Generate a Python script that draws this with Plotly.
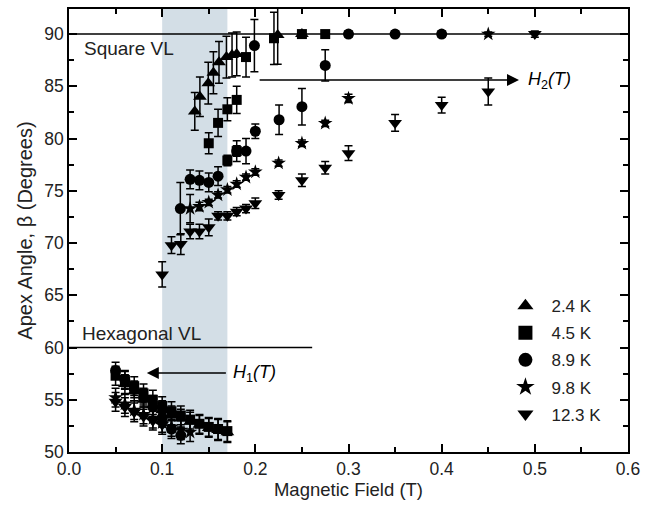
import plotly.graph_objects as go

# ---- data ----
# 2.4 K
x24 = [0.06, 0.07, 0.08, 0.09, 0.10, 0.11, 0.12, 0.13, 0.14, 0.15, 0.16, 0.17,
       0.135, 0.1405, 0.1495, 0.155, 0.161, 0.169, 0.175, 0.18, 0.224, 0.25]
y24 = [56.5, 55.8, 55.0, 54.5, 54.0, 53.5, 53.2, 52.9, 52.6, 52.3, 52.1, 51.9,
       82.6, 84.0, 85.3, 86.3, 87.3, 87.8, 88.0, 88.1, 89.9, 90.0]
e24 = [0.9, 0.9, 0.9, 0.9, 0.9, 0.9, 0.9, 0.9, 0.9, 0.9, 1.0, 1.0,
       1.8, 1.9, 2.0, 2.0, 2.0, 2.0, 2.1, 2.1, 2.8, 0.3]

# 4.5 K
x45 = [0.05, 0.06, 0.07, 0.08, 0.09, 0.10, 0.11, 0.12, 0.13, 0.14, 0.15, 0.16, 0.17,
       0.15, 0.16, 0.17, 0.18, 0.17, 0.18, 0.19, 0.22, 0.25, 0.275]
y45 = [57.3, 56.9, 56.3, 55.6, 55.0, 54.4, 53.9, 53.5, 53.1, 52.7, 52.4, 52.2, 52.0,
       79.55, 81.5, 82.8, 83.7, 77.9, 78.8, 87.8, 89.6, 90.0, 90.0]
e45 = [0.9, 0.9, 0.9, 0.9, 0.9, 0.9, 0.9, 0.9, 0.9, 0.9, 0.9, 1.0, 1.0,
       1.0, 1.3, 1.1, 1.3, 0.5, 0.5, 1.9, 2.5, 0.3, 0.3]

# 8.9 K
x89 = [0.05, 0.06, 0.07, 0.08, 0.09, 0.10, 0.11, 0.12,
       0.1195, 0.13, 0.14, 0.15, 0.16, 0.18, 0.19, 0.20, 0.199, 0.2255, 0.25, 0.275,
       0.30, 0.35, 0.40]
y89 = [57.8, 56.9, 56.0, 55.2, 54.3, 53.3, 52.2, 51.6,
       73.3, 76.1, 76.0, 75.8, 76.4, 78.8, 78.8, 80.7, 88.9, 81.8, 83.05, 87.0,
       90.0, 90.0, 90.0]
e89 = [0.8, 0.8, 0.8, 0.9, 0.9, 0.9, 0.9, 0.8,
       2.5, 0.9, 0.9, 0.9, 0.9, 1.0, 1.2, 0.7, 2.5, 1.4, 1.75, 1.5,
       0.3, 0.3, 0.3]

# 9.8 K
x98 = [0.05, 0.06, 0.07, 0.08, 0.09, 0.10, 0.11, 0.12, 0.13,
       0.13, 0.14, 0.15, 0.16, 0.17, 0.18, 0.19, 0.20, 0.225, 0.25, 0.275, 0.30, 0.45]
y98 = [55.2, 54.6, 54.0, 53.6, 53.2, 52.8, 52.4, 52.1, 51.9,
       73.3, 73.5, 73.9, 74.6, 75.1, 75.65, 76.3, 76.8, 77.65, 79.55, 81.46, 83.84, 90.0]
e98 = [0.9, 0.9, 0.9, 0.9, 0.9, 0.9, 0.9, 0.9, 0.9,
       1.35, 0.4, 0.3, 0.3, 0.3, 0.3, 0.3, 0.3, 0.3, 0.3, 0.3, 0.4, 0.2]

# 12.3 K
x123 = [0.05, 0.06, 0.07, 0.08, 0.09, 0.10,
        0.10, 0.11, 0.12, 0.13, 0.14, 0.15, 0.16, 0.17, 0.18, 0.19, 0.20, 0.225,
        0.25, 0.275, 0.30, 0.35, 0.40, 0.45, 0.50]
y123 = [54.8, 54.3, 53.8, 53.4, 53.0, 52.6,
        67.0, 69.8, 69.9, 71.1, 71.1, 71.5, 72.6, 72.6, 73.0, 73.3, 73.8, 74.6,
        76.0, 77.2, 78.6, 81.5, 83.2, 84.5, 90.0]
e123 = [0.9, 0.9, 0.9, 0.9, 0.9, 0.9,
        1.2, 0.8, 1.0, 0.7, 0.7, 0.8, 0.4, 0.4, 0.4, 0.4, 0.5, 0.4,
        0.6, 0.6, 0.7, 0.8, 0.75, 1.3, 0.3]

series = [
    ("2.4 K", x24, y24, e24, "triangle-up", 12),
    ("4.5 K", x45, y45, e45, "square", 10),
    ("8.9 K", x89, y89, e89, "circle", 11),
    ("9.8 K", x98, y98, e98, "star", 11),
    ("12.3 K", x123, y123, e123, "triangle-down", 12),
]

FONT = "Liberation Sans, Arial, sans-serif"

fig = go.Figure()
for name, xs, ys, es, sym, sz in series:
    fig.add_trace(go.Scatter(
        x=xs, y=ys, mode="markers", showlegend=False,
        marker=dict(symbol=sym, size=sz, color="black"),
        error_y=dict(type="data", array=es, color="black", thickness=1.5, width=4),
    ))
for i, (name, xs, ys, es, sym, sz) in enumerate(series):
    fig.add_trace(go.Scatter(
        x=[None], y=[None], mode="markers", name=name, legendgroup=str(i),
        marker=dict(symbol=sym, size=14, color="black"),
    ))

shapes = [
    dict(type="rect", xref="x", yref="paper", x0=0.1, x1=0.17, y0=0, y1=1,
         fillcolor="#d3dee6", line=dict(width=0), layer="below"),
    dict(type="line", xref="x", yref="y", x0=0, x1=0.6, y0=90, y1=90,
         line=dict(color="black", width=1.5), layer="below"),
    dict(type="line", xref="x", yref="y", x0=0, x1=0.261, y0=60, y1=60,
         line=dict(color="black", width=1.5), layer="below"),
]

annotations = [
    dict(x=0.0135, y=88.6, xref="x", yref="y", text="Square VL", showarrow=False,
         xanchor="left", yanchor="middle", font=dict(size=19, family=FONT, color="#222")),
    dict(x=0.0115, y=61.3, xref="x", yref="y", text="Hexagonal VL", showarrow=False,
         xanchor="left", yanchor="middle", font=dict(size=19, family=FONT, color="#222")),
    # H2 arrow
    dict(x=0.483, y=85.6, ax=0.203, ay=85.6, xref="x", yref="y", axref="x", ayref="y",
         text="", showarrow=True, arrowhead=2, arrowsize=1.6, arrowwidth=1.5,
         arrowcolor="black", standoff=0),
    dict(x=0.491, y=85.6, xref="x", yref="y", text="<i>H</i><sub>2</sub><i>(T)</i>",
         showarrow=False, xanchor="left", yanchor="middle",
         font=dict(size=18, family=FONT, color="black")),
    # H1 arrow
    dict(x=0.0835, y=57.55, ax=0.17, ay=57.55, xref="x", yref="y", axref="x", ayref="y",
         text="", showarrow=True, arrowhead=2, arrowsize=1.6, arrowwidth=1.5,
         arrowcolor="black", standoff=0),
    dict(x=0.174, y=57.55, xref="x", yref="y", text="<i>H</i><sub>1</sub><i>(T)</i>",
         showarrow=False, xanchor="left", yanchor="middle",
         font=dict(size=18, family=FONT, color="black")),
]

axis_common = dict(
    showline=True, linecolor="black", linewidth=1.5, mirror="ticks",
    ticks="inside", ticklen=8, tickwidth=1.5, tickcolor="black",
    showgrid=False, zeroline=False, ticklabeloverflow="allow",
    tickfont=dict(size=17.5, family=FONT, color="#222"),
)

fig.update_layout(
    width=647, height=510,
    margin=dict(l=69, r=12, t=7, b=58),
    plot_bgcolor="white", paper_bgcolor="white",
    shapes=shapes, annotations=annotations,
    xaxis=dict(range=[0, 0.6], dtick=0.1, tick0=0, tickformat=".1f",
               minor=dict(dtick=0.05, ticks="inside", ticklen=5, tickcolor="black", tickwidth=1.5),
               title=dict(text="Magnetic Field (T)", font=dict(size=18.5, family=FONT, color="#222"), standoff=5),
               **axis_common),
    yaxis=dict(range=[50, 92.4], dtick=5, tick0=50,
               minor=dict(dtick=2.5, ticks="inside", ticklen=5, tickcolor="black", tickwidth=1.5),
               title=dict(text="Apex Angle, β (Degrees)", font=dict(size=20, family=FONT, color="#222"), standoff=6),
               **axis_common),
    legend=dict(x=0.77, y=0.37, xanchor="left", yanchor="top", bgcolor="rgba(0,0,0,0)",
                font=dict(size=17, family=FONT, color="#222"), traceorder="grouped",
                tracegroupgap=2, itemwidth=42),
    font=dict(family=FONT),
)

fig.write_html("out.html")
